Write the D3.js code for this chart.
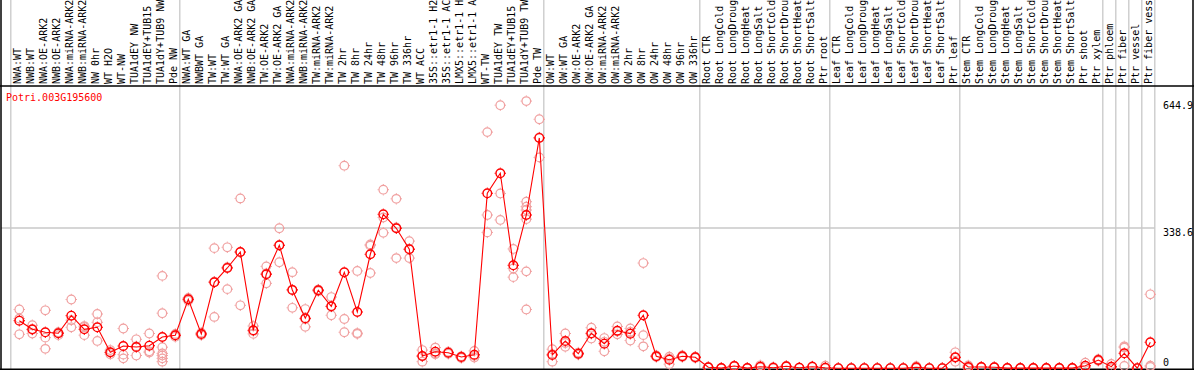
<!DOCTYPE html>
<html><head><meta charset="utf-8">
<script src="https://cdn.jsdelivr.net/npm/d3@7"></script>
<style>body{margin:0;background:#fff}svg{display:block}</style>
</head><body><svg id="c" width="1194" height="370"></svg>
<script>
const title = "Potri.003G195600";
const categories = [
"NWA:WT","NWB:WT","NWA:OE-ARK2","NWB:OE-ARK2","NWA:miRNA-ARK2","NWB:miRNA-ARK2","NW 0hr","WT H2O","WT-NW","TUA1dEY NW","TUA1dEY+TUB15 NW","TUA1dY+TUB9 NW","Pde NW",
"NWA:WT GA","NWBWT GA","TW:WT","TW:WT GA","NWA:OE-ARK2 GA","NWB:OE-ARK2 GA","TW:OE-ARK2","TW:OE-ARK2 GA","NWA:miRNA-ARK2 GA","NWB:miRNA-ARK2 GA","TW:miRNA-ARK2","TW:miRNA-ARK2","TW 2hr","TW 8hr","TW 24hr","TW 48hr","TW 96hr","TW 336hr","WT ACC","35S::etr1-1 H2O","35S::etr1-1 ACC","LMX5::etr1-1 H2O","LMX5::etr1-1 ACC","WT-TW","TUA1dEY TW","TUA1dEY+TUB15 TW","TUA1dY+TUB9 TW","Pde TW",
"OW:WT","OW:WT GA","OW:OE-ARK2","OW:OE-ARK2 GA","OW:miRNA-ARK2","OW:miRNA-ARK2","OW 2hr","OW 8hr","OW 24hr","OW 48hr","OW 96hr","OW 336hr",
"Root CTR","Root LongCold","Root LongDrought","Root LongHeat","Root LongSalt","Root ShortCold","Root ShortDrought","Root ShortHeat","Root ShortSalt","Ptr root",
"Leaf CTR","Leaf LongCold","Leaf LongDrought","Leaf LongHeat","Leaf LongSalt","Leaf ShortCold","Leaf ShortDrought","Leaf ShortHeat","Leaf ShortSalt","Ptr leaf",
"Stem CTR","Stem LongCold","Stem LongDrought","Stem LongHeat","Stem LongSalt","Stem ShortCold","Stem ShortDrought","Stem ShortHeat","Stem ShortSalt","Ptr shoot","Ptr xylem",
"Ptr phloem","Ptr fiber","Ptr vessel","Ptr fiber vessel"];
const groupSizes = [13, 28, 12, 10, 10, 11, 1, 1, 1, 1];
const means = [
114.9,94.1,86.9,84.5,127,94.1,99,38.6,53.8,51.4,54.5,75.5,79.7,
166.5,82.8,207.6,242.1,280.7,91.7,226.9,296.9,189,120.7,188.3,149.6,231.7,135.9,275.2,371.7,337.9,287.2,29.7,40.1,37.7,27.3,32.8,422.4,470.7,248.6,370,555.9,
32.1,65.9,35.2,84.5,59.4,90.8,83.5,127.9,29,20.8,29,26.6,
2.4,0.5,5.6,0.5,3.9,1.4,4.8,1.4,3.9,1.4,
0.3,0.3,0.3,0.3,0.3,0.3,2.4,0.3,0.3,26.6,
3.1,3,2.4,0.5,0.5,0.5,0.5,0.5,0.5,6.3,20,
3.9,36.2,0.2,62.8];
const replicates = [
[142,82,120],[104,84,93],[140,74,47],[80,86,87],[166,99,116],[100,80,102],[131,111,66],[44,38,34],[96,33,24],[70,31,53],[84,41,38],[223,133,51,36,31,24,16],[76,80,83],
[163,167,170],[80,83,86],[290,124,209],[292,191,244],[410,152,280],[102,83,90],[246,205,229],[338,256,297],[232,146,190],[143,100,119],[186,189,190],[172,128,149],[119,87,489],[235,85,83],[299,230,296],[431,364,327],[409,266,340],[307,266,288],[44,16,29],[50,36,34],[40,38,35],[25,28,29],[42,26,30],[570,370,328],[635,422,358],[288,241,220],[644.9,402,390,382,360,234,142],[601,509,557],
[46,16,34],[84,52,61],[33,35,38],[98,72,83],[73,41,64],[101,82,89],[96,67,88],[254,80,53],[27,29,31],[28,10,24],[27,29,31],[25,27,28],
[2,3,2],[0.3,0.6,0.5],[5,6,6],[0.4,0.5,0.6],[7.2,2,2.5],[3,1,0.3],[4,5,5.5],[1,1.5,1.7],[3,4,4.5],[6.3,0,0],
[0.3,0.3,0.3],[0.3,0.3,0.3],[0.3,0.3,0.3],[0.3,0.3,0.3],[0.3,0.3,0.3],[0.3,0.3,0.3],[5,1,1],[0.3,0.3,0.3],[0.3,0.3,0.3],[38.6,15.9,25.3],
[7,1,1.3],[3,3,3],[2,2.5,2.7],[0.5,0.5,0.5],[0.5,0.5,0.5],[0.5,0.5,0.5],[0.5,0.5,0.5],[0.5,0.5,0.5],[0.5,0.5,0.5],[13.5,3,2.4],[22,18,20],
[10.4,0.5,0.8],[53,5.6,50],[0.2,0.2,0.2],[178.6,6.3,3.5]];
const yTickValues = [644.9, 338.6, 0];

const svg = d3.select("#c");
const W = 1194, H = 370;
const plotTop = 86, plotBottom = 368.3, plotLeft = 10.8;
const band = 13;
const x = d3.scaleBand().domain(d3.range(categories.length))
  .range([plotLeft, plotLeft + band * categories.length]).padding(0);
const px = i => x(i) + 8.5;
const y = d3.scaleLinear().domain([0, 338.6]).range([plotBottom, 228]);
const plotRight = plotLeft + band * categories.length;

// separators
const starts = [];
let acc = 0;
groupSizes.forEach(s => { starts.push(acc); acc += s; });
const sepX = starts.map(i => x(i)).concat([plotRight]);
svg.append("g").selectAll("line").data(sepX).join("line")
  .attr("x1", d => d).attr("x2", d => d).attr("y1", 0).attr("y2", H)
  .attr("stroke", "#c8c8c8").attr("stroke-width", 1.3);

// middle gridline
svg.append("line").attr("x1", 1).attr("x2", plotRight).attr("y1", y(338.6)).attr("y2", y(338.6))
  .attr("stroke", "#c8c8c8").attr("stroke-width", 1.3);

// frame
svg.append("line").attr("x1", 0).attr("x2", W).attr("y1", plotTop).attr("y2", plotTop).attr("stroke", "#000").attr("stroke-width", 1.5);
svg.append("line").attr("x1", 0).attr("x2", W).attr("y1", 369.3).attr("y2", 369.3).attr("stroke", "#000").attr("stroke-width", 1.5);
svg.append("line").attr("x1", 1).attr("x2", 1).attr("y1", 0).attr("y2", H).attr("stroke", "#000").attr("stroke-width", 1.5);
svg.append("line").attr("x1", 1193).attr("x2", 1193).attr("y1", 0).attr("y2", H).attr("stroke", "#000").attr("stroke-width", 1.5);

// category labels
svg.append("g").selectAll("text").data(categories).join("text")
  .attr("transform", (d, i) => `translate(${px(i) + 1.8},84) rotate(-90)`)
  .attr("font-family", "DejaVu Sans Mono").attr("font-size", 10).attr("fill", "#000")
  .text(d => d);

// y labels
svg.append("g").selectAll("text").data(yTickValues).join("text")
  .attr("x", 1163)
  .attr("y", d => d === 0 ? plotBottom - 2 : y(d) + 8)
  .attr("font-family", "DejaVu Sans Mono").attr("font-size", 10).attr("fill", "#000")
  .text(d => d === 0 ? "0" : d.toFixed(1));

// title
svg.append("text").attr("x", 6).attr("y", 101).attr("fill", "#ff0000")
  .attr("font-family", "DejaVu Sans Mono").attr("font-size", 10).text(title);

function marker(g, color, sw) {
  const r = 4.3;
  g.append("circle").attr("r", r).attr("fill", "none").attr("stroke", color).attr("stroke-width", sw);
  [[0,-1],[0,1],[-1,0],[1,0]].forEach(([dx,dy]) => {
    g.append("line").attr("x1", dx*(r+0.3)).attr("y1", dy*(r+0.3)).attr("x2", dx*(r+1.4)).attr("y2", dy*(r+1.4))
      .attr("stroke", color).attr("stroke-width", 1);
  });
}

// replicates
const repPts = [];
replicates.forEach((arr, i) => arr.forEach(v => repPts.push({i, v})));
svg.append("g").selectAll("g").data(repPts).join("g")
  .attr("transform", d => `translate(${px(d.i)},${y(d.v)})`)
  .each(function(){ marker(d3.select(this), "#f0a0a0", 1.2); });

// mean line
svg.append("path").datum(means)
  .attr("d", d3.line().x((d, i) => px(i)).y(d => y(d)))
  .attr("fill", "none").attr("stroke", "#ff0000").attr("stroke-width", 1.1);

// mean markers
svg.append("g").selectAll("g").data(means).join("g")
  .attr("transform", (d, i) => `translate(${px(i)},${y(d)})`)
  .each(function(){ marker(d3.select(this), "#ff0000", 1.4); });
</script></body></html>
